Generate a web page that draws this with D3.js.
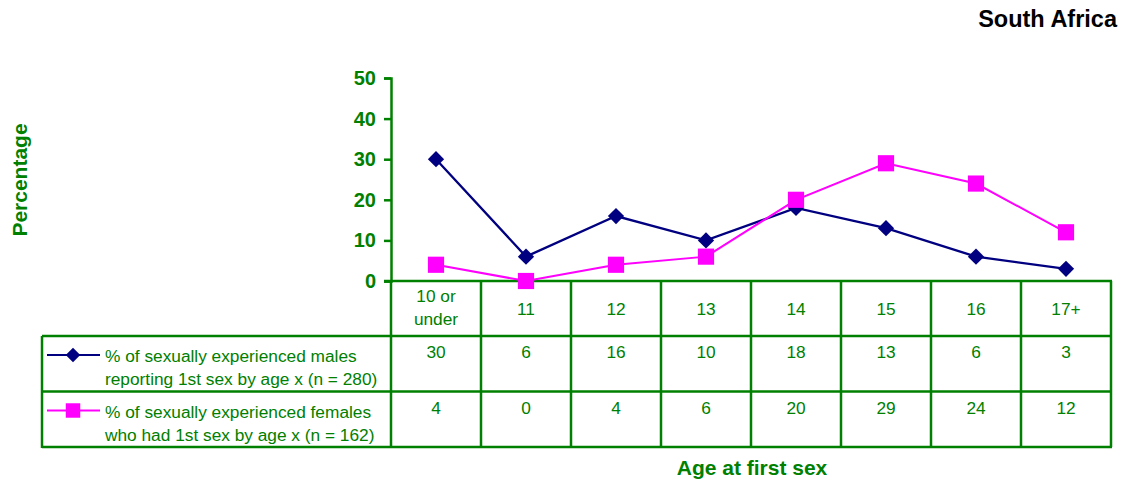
<!DOCTYPE html>
<html>
<head>
<meta charset="utf-8">
<script src="https://cdn.jsdelivr.net/npm/d3@7"></script>
<style>
  html, body { margin: 0; padding: 0; background: #fff; }
  svg { display: block; font-family: "Liberation Sans", Arial, sans-serif; }
</style>
</head>
<body>
<svg id="chart" width="1127" height="483"></svg>
<script>
// Age groups (two-line header labels in the data table)
const categories = [["10 or", "under"], ["11"], ["12"], ["13"], ["14"], ["15"], ["16"], ["17+"]];
const maleValues = [30, 6, 16, 10, 18, 13, 6, 3];
const femaleValues = [4, 0, 4, 6, 20, 29, 24, 12];
const seriesLabels = [
  ["% of sexually experienced males", "reporting 1st sex by age x (n = 280)"],
  ["% of sexually experienced females", "who had 1st sex by age x (n = 162)"]
];
const yTicks = [0, 10, 20, 30, 40, 50];

const green = "#008000";
const svg = d3.select("#chart");

const plotLeft = 391, plotRight = 1111, plotTop = 78, plotBottom = 281;
const tableLeft = 42;
const rowBounds = [281, 336, 391.5, 447];
const tableFont = 17.3;

const x = d3.scaleBand().domain(d3.range(categories.length)).range([plotLeft, plotRight]);
const y = d3.scaleLinear().domain([0, 50]).range([plotBottom, plotTop]);

// Title
svg.append("text").attr("x", 1117).attr("y", 27).attr("text-anchor", "end")
  .attr("font-size", 23.5).attr("font-weight", "bold").attr("fill", "#000").text("South Africa");

// Y axis
const yAxis = d3.axisLeft(y).tickValues(yTicks).tickSize(7).tickPadding(8);
const gy = svg.append("g").attr("transform", `translate(${plotLeft},0)`).call(yAxis);
gy.select(".domain").attr("stroke", green).attr("stroke-width", 2.5);
gy.selectAll(".tick line").attr("stroke", green).attr("stroke-width", 2.5);
gy.selectAll(".tick text").attr("fill", green).attr("font-size", 20).attr("font-weight", "bold")
  .attr("font-family", "Liberation Sans, Arial, sans-serif");

// Y axis title
svg.append("text").attr("transform", "translate(27,180) rotate(-90)").attr("text-anchor", "middle")
  .attr("font-size", 21).attr("font-weight", "bold").attr("fill", green).text("Percentage");

// Data table grid
const grid = svg.append("g").attr("stroke", green).attr("stroke-width", 2.5).attr("fill", "none");
grid.append("line").attr("x1", plotLeft - 7).attr("x2", plotRight + 1).attr("y1", rowBounds[0]).attr("y2", rowBounds[0]);
grid.append("line").attr("x1", plotRight).attr("x2", plotRight).attr("y1", rowBounds[0]).attr("y2", rowBounds[3]);
[1, 2, 3].forEach(i => {
  grid.append("line").attr("x1", tableLeft).attr("x2", plotRight + 1).attr("y1", rowBounds[i]).attr("y2", rowBounds[i]);
});
grid.append("line").attr("x1", tableLeft).attr("x2", tableLeft).attr("y1", rowBounds[1]).attr("y2", rowBounds[3] + 1);
d3.range(categories.length).forEach(i => {
  grid.append("line").attr("x1", x(i)).attr("x2", x(i)).attr("y1", rowBounds[0]).attr("y2", rowBounds[3]);
});

// Header labels
const header = svg.append("g").attr("fill", green).attr("font-size", tableFont).attr("text-anchor", "middle");
categories.forEach((lines, i) => {
  lines.forEach((t, j) => {
    header.append("text").attr("x", x(i) + x.bandwidth() / 2)
      .attr("y", lines.length === 1 ? 315 : 302 + j * 23)
      .text(t);
  });
});

// Value rows
const rows = [maleValues, femaleValues];
rows.forEach((vals, r) => {
  svg.append("g").attr("fill", green).attr("font-size", tableFont).attr("text-anchor", "middle")
    .selectAll("text").data(vals).join("text")
    .attr("x", (d, i) => x(i) + x.bandwidth() / 2)
    .attr("y", rowBounds[r + 1] + 22)
    .text(d => d);
});

// Series definitions (diamond = square turned 45 degrees)
const series = [
  { values: maleValues, color: "#000080", shape: d3.symbolSquare, size: 132, rotate: 45, width: 2.3, label: seriesLabels[0] },
  { values: femaleValues, color: "#FF00FF", shape: d3.symbolSquare, size: 262, rotate: 0, width: 2, label: seriesLabels[1] }
];

// Legend keys inside the table rows
series.forEach((s, r) => {
  const ly = rowBounds[r + 1] + 19;
  svg.append("line").attr("x1", 47).attr("x2", 100).attr("y1", ly).attr("y2", ly)
    .attr("stroke", s.color).attr("stroke-width", 2);
  svg.append("path").attr("d", d3.symbol().type(s.shape).size(s.size * 0.8)())
    .attr("transform", `translate(73,${ly}) rotate(${s.rotate})`).attr("fill", s.color);
  s.label.forEach((t, j) => {
    svg.append("text").attr("x", 105).attr("y", ly + 7 + j * 23).attr("fill", green)
      .attr("font-size", tableFont).text(t);
  });
});

// Lines and markers
const line = d3.line().x((d, i) => x(i) + x.bandwidth() / 2).y(d => y(d));
series.forEach(s => {
  svg.append("path").datum(s.values).attr("d", line).attr("fill", "none")
    .attr("stroke", s.color).attr("stroke-width", s.width);
  svg.append("g").selectAll("path").data(s.values).join("path")
    .attr("d", d3.symbol().type(s.shape).size(s.size)())
    .attr("transform", (d, i) => `translate(${x(i) + x.bandwidth() / 2},${y(d)}) rotate(${s.rotate})`)
    .attr("fill", s.color);
});

// X axis title
svg.append("text").attr("x", 752).attr("y", 475).attr("text-anchor", "middle")
  .attr("font-size", 21).attr("font-weight", "bold").attr("fill", green).text("Age at first sex");
</script>
</body>
</html>
